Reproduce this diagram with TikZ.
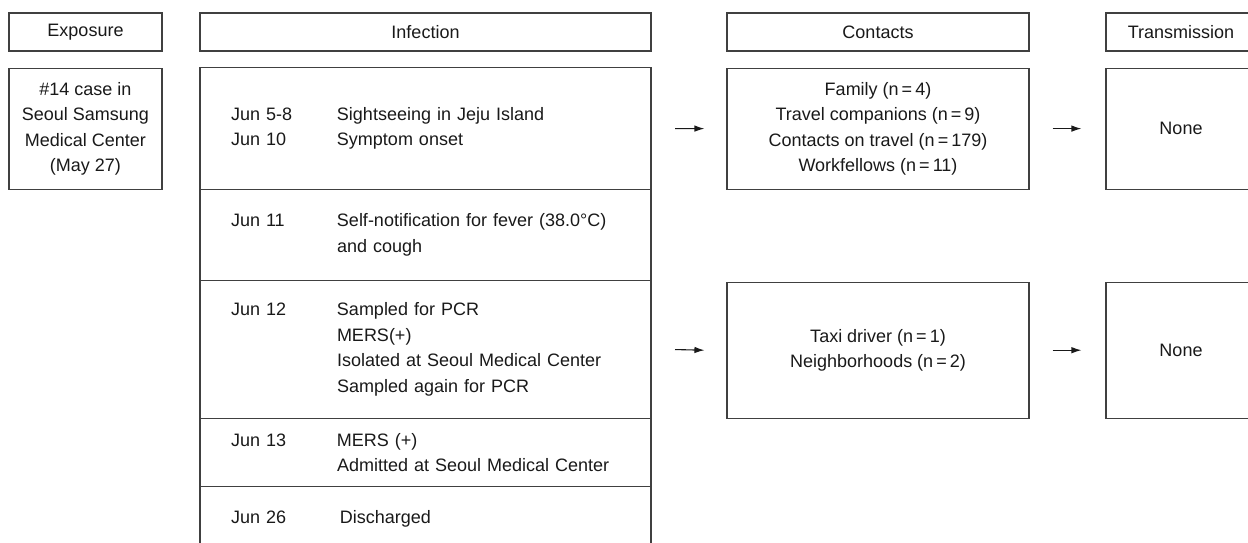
\documentclass[tikz,border=0pt]{standalone}
\usepackage{fontspec}
\setmainfont{Liberation Sans}
\usetikzlibrary{shapes,arrows,arrows.meta,positioning}

\begin{document}
\begin{tikzpicture}[x=1pt, y=-1pt, thick]
        \tikzstyle{every node} = [font=\fontsize{18}{25.5}\selectfont, text=black!90]
        \tikzstyle{head} = [rectangle, draw=black!75, line width=1.1pt, minimum height=38pt, inner sep=0pt]
        \tikzstyle{block} = [rectangle, draw=black!75, line width=1.1pt, align=center, inner sep=0pt]
        \tikzstyle{row} = [rectangle, draw=black!75, line width=1.1pt, outer sep=0pt, text width=389pt, inner xsep=31pt, inner ysep=0pt, align=left]
        \tikzstyle{line} = [draw, draw=black!90, -{Latex[length=10pt, width=6.5pt]}, line width=1.1pt]
        \newcommand{\when}[1]{\makebox[106pt][l]{#1}}

        \useasboundingbox (0,0) rectangle (1248,542);

        % column heads
        \node [head, minimum width=153pt] (hexp) at (85.5,32) {Exposure};
        \node [head, minimum width=451pt] (hinf) at (425.5,32) {Infection};
        \node [head, minimum width=302pt] (hcon) at (878,32) {Contacts};
        \node [head, minimum width=150pt] (htra) at (1181,32) {Transmission};

        \node [block, minimum width=153pt, minimum height=121pt, below=16pt of hexp] (exp)
              {\#14 case in\\Seoul Samsung\\Medical Center\\(May 27)};

        % infection timeline
        \node [row, minimum height=122pt, below=16pt of hinf] (inf1)
              {\when{Jun 5-8}Sightseeing in Jeju Island\\\when{Jun 10}Symptom onset};
        \node [row, minimum height=91pt, below=0pt of inf1] (inf2)
              {\when{Jun 11}Self-notification for fever (38.0°C)\\\when{}and cough};
        \node [row, minimum height=138pt, below=0pt of inf2] (inf3)
              {\when{Jun 12}Sampled for PCR\\\when{}MERS(+)\\\when{}Isolated at Seoul Medical Center\\\when{}Sampled again for PCR};
        \node [row, minimum height=68pt, below=0pt of inf3] (inf4)
              {\when{Jun 13}MERS (+)\\\when{}Admitted at Seoul Medical Center};
        \node [row, minimum height=64pt, below=0pt of inf4] (inf5)
              {\when{Jun 26}\,Discharged};

        % contacts and transmission
        \node [block, minimum width=302pt, minimum height=121pt, below=16pt of hcon] (con1)
              {Family (n\,=\,4)\\Travel companions (n\,=\,9)\\Contacts on travel (n\,=\,179)\\Workfellows (n\,=\,11)};
        \node [block, minimum width=302pt, minimum height=136pt, below=92pt of con1] (con2)
              {Taxi driver (n\,=\,1)\\Neighborhoods (n\,=\,2)};
        \node [block, minimum width=150pt, minimum height=121pt, below=16pt of htra] (tra1) {None};
        \node [block, minimum width=150pt, minimum height=136pt, below=92pt of tra1] (tra2) {None};

        \path [line] ([xshift=24pt]inf1.east) -- ([xshift=-22pt]con1.west);
        \path [line] ([xshift=23pt]con1.east) -- ([xshift=-24pt]tra1.west);
        \path [line] ([xshift=24pt]inf3.east) -- ([xshift=-22pt]con2.west);
        \path [line] ([xshift=23pt]con2.east) -- ([xshift=-24pt]tra2.west);
    \end{tikzpicture}
\end{document}
